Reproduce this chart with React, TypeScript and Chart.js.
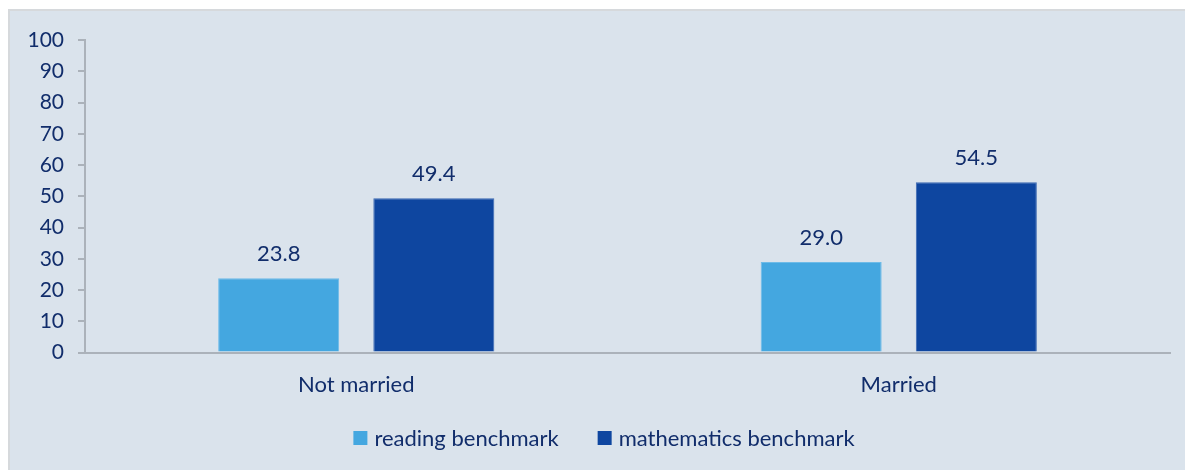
import React, { useEffect, useRef } from "react";
import { Chart, registerables } from "chart.js";

Chart.register(...registerables);

const categories = ["Not married", "Married"];
const readingValues = [23.8, 29.0];
const mathValues = [49.4, 54.5];
const seriesNames = ["reading benchmark", "mathematics benchmark"];
const seriesColors = ["#44A7E0", "#0E46A0"];
const yTicks = [0, 10, 20, 30, 40, 50, 60, 70, 80, 90, 100];

const TEXT = "#112D6B";
const FONT = "Lato, 'Open Sans', sans-serif";
const FS = 22;
const FS_Y = 21;

const valueLabels = {
  id: "valueLabels",
  afterDatasetsDraw(chart: any) {
    const ctx = chart.ctx;
    ctx.save();
    ctx.font = `${FS}px ${FONT}`;
    ctx.fillStyle = TEXT;
    ctx.textAlign = "center";
    ctx.textBaseline = "bottom";
    chart.data.datasets.forEach((ds: any, i: number) => {
      const meta = chart.getDatasetMeta(i);
      meta.data.forEach((bar: any, j: number) => {
        ctx.fillText(Number(ds.data[j]).toFixed(1), bar.x, bar.y - 13);
      });
    });
    ctx.restore();
  },
};

const customLegend = {
  id: "customLegend",
  afterDraw(chart: any) {
    const ctx = chart.ctx;
    ctx.save();
    ctx.font = `${FS}px ${FONT}`;
    const box = 14;
    const boxGap = 7;
    const itemGap = 39;
    const widths = seriesNames.map((n) => box + boxGap + ctx.measureText(n).width);
    const total = widths.reduce((a, b) => a + b, 0) + itemGap * (widths.length - 1);
    let x = chart.width / 2 - total / 2;
    const cy = 427;
    ctx.textBaseline = "middle";
    ctx.textAlign = "left";
    seriesNames.forEach((n, i) => {
      ctx.fillStyle = seriesColors[i];
      ctx.fillRect(x, cy - box / 2, box, box);
      ctx.fillStyle = TEXT;
      ctx.fillText(n, x + box + boxGap, cy + 1);
      x += widths[i] + itemGap;
    });
    ctx.restore();
  },
};

export default function App() {
  const ref = useRef<HTMLCanvasElement | null>(null);
  useEffect(() => {
    if (!ref.current) return;
    const chart = new Chart(ref.current, {
      type: "bar",
      data: {
        labels: categories,
        datasets: [
          {
            label: seriesNames[0],
            data: readingValues,
            backgroundColor: seriesColors[0],
            borderColor: "#6DBBE8",
            borderWidth: 1,
            categoryPercentage: 0.572,
            barPercentage: 0.78,
          },
          {
            label: seriesNames[1],
            data: mathValues,
            backgroundColor: seriesColors[1],
            borderColor: "#3A67B2",
            borderWidth: 1,
            categoryPercentage: 0.572,
            barPercentage: 0.78,
          },
        ],
      },
      options: {
        animation: false,
        responsive: false,
        layout: { padding: { left: 0, right: 28, top: 29, bottom: 54 } },
        plugins: {
          tooltip: { enabled: false },
          legend: { display: false },
        },
        scales: {
          x: {
            grid: { display: false, drawTicks: false },
            border: { display: true, color: "#ABB2BA", width: 2 },
            ticks: {
              color: TEXT,
              font: { family: FONT, size: FS },
              padding: 19,
            },
          },
          y: {
            min: 0,
            max: 100,
            afterBuildTicks: (axis: any) => {
              axis.ticks = yTicks.map((v) => ({ value: v }));
            },
            afterFit: (axis: any) => {
              axis.width = 75;
            },
            grid: {
              drawOnChartArea: false,
              drawTicks: true,
              tickLength: 7,
              color: "#ABB2BA",
              lineWidth: 2,
            },
            border: { display: true, color: "#ABB2BA", width: 2 },
            ticks: {
              color: TEXT,
              font: { family: FONT, size: FS_Y },
              padding: 14,
            },
          },
        },
      },
      plugins: [valueLabels, customLegend],
    });
    return () => chart.destroy();
  }, []);

  return (
    <div
      style={{
        width: 1190,
        height: 462,
        background: "#DAE3EC",
        borderTop: "2px solid #D6D9DC",
        borderLeft: "2px solid #D6D9DC",
        boxSizing: "border-box",
        marginTop: 1,
        overflow: "hidden",
      }}
    >
      <canvas ref={ref} width={1188} height={460} style={{ display: "block" }} />
    </div>
  );
}
